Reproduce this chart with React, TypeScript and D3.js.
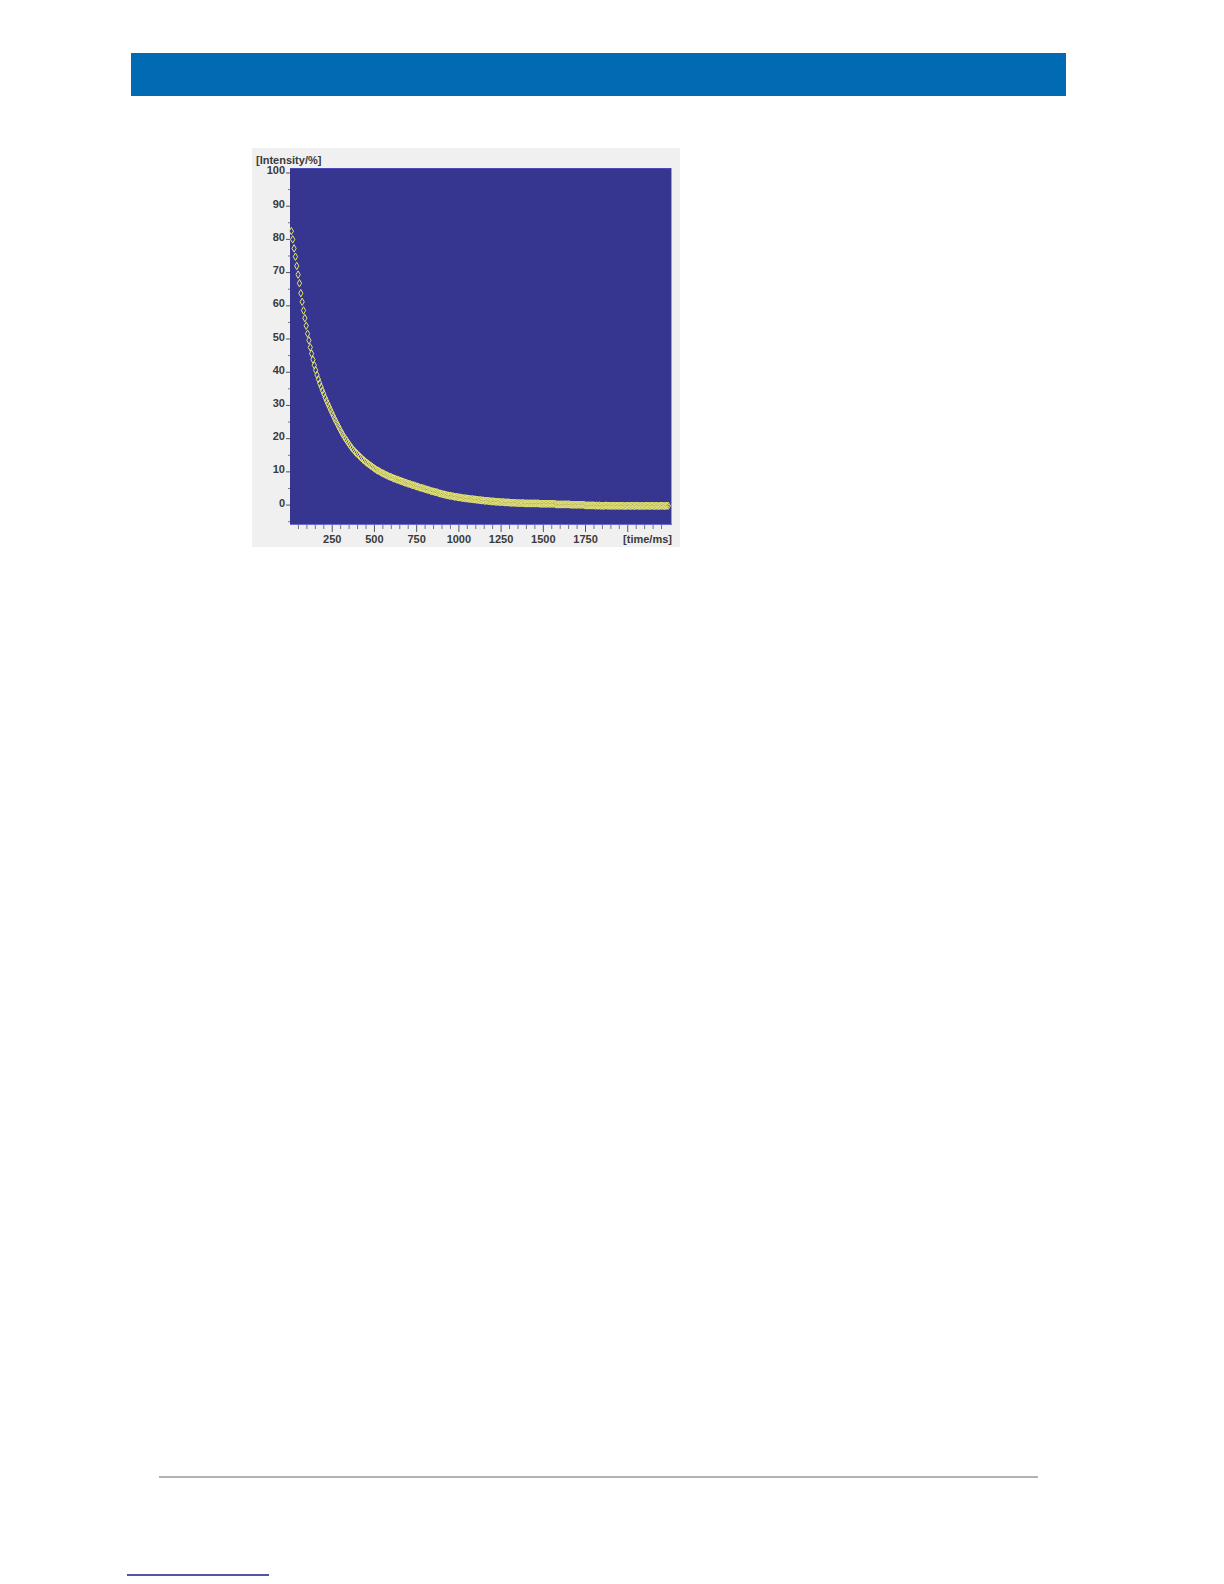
import React from "react";
import * as d3 from "d3";

// relaxation decay, one reading every 8 ms starting at 8 ms
const sampleStepMs = 8;
const intensity = [
  82.5, 80.0, 77.3, 74.8, 72.0, 69.4, 66.8, 63.8, 61.2, 58.6,
  56.3, 54.0, 51.6, 49.6, 47.5, 45.6, 43.8, 42.1, 40.6, 39.2,
  37.9, 36.7, 35.6, 34.5, 33.5, 32.4, 31.4, 30.5, 29.6, 28.7,
  27.8, 26.9, 26.0, 25.2, 24.4, 23.6, 22.8, 22.0, 21.3, 20.6,
  20.0, 19.4, 18.8, 18.2, 17.6, 17.1, 16.6, 16.1, 15.7, 15.3,
  14.9, 14.5, 14.1, 13.7, 13.4, 13.0, 12.7, 12.4, 12.1, 11.8,
  11.5, 11.2, 10.9, 10.6, 10.4, 10.2, 9.9, 9.7, 9.5, 9.3,
  9.1, 8.9, 8.7, 8.5, 8.4, 8.2, 8.0, 7.9, 7.7, 7.6,
  7.4, 7.3, 7.1, 7.0, 6.8, 6.7, 6.5, 6.4, 6.3, 6.1,
  6.0, 5.9, 5.7, 5.6, 5.5, 5.3, 5.2, 5.1, 5.0, 4.8,
  4.7, 4.6, 4.5, 4.3, 4.2, 4.1, 4.0, 3.9, 3.8, 3.6,
  3.5, 3.4, 3.3, 3.2, 3.1, 3.0, 2.9, 2.8, 2.8, 2.7,
  2.6, 2.5, 2.5, 2.4, 2.3, 2.3, 2.2, 2.1, 2.1, 2.0,
  2.0, 1.9, 1.9, 1.8, 1.8, 1.7, 1.7, 1.6, 1.6, 1.5,
  1.5, 1.4, 1.4, 1.3, 1.3, 1.3, 1.2, 1.2, 1.1, 1.1,
  1.1, 1.0, 1.0, 1.0, 0.9, 0.9, 0.9, 0.9, 0.8, 0.8,
  0.8, 0.8, 0.7, 0.7, 0.7, 0.7, 0.7, 0.6, 0.6, 0.6,
  0.6, 0.6, 0.6, 0.5, 0.5, 0.5, 0.5, 0.5, 0.5, 0.5,
  0.5, 0.5, 0.5, 0.5, 0.4, 0.4, 0.4, 0.4, 0.4, 0.4,
  0.4, 0.4, 0.4, 0.4, 0.4, 0.4, 0.2, 0.2, 0.2, 0.2,
  0.2, 0.2, 0.2, 0.2, 0.2, 0.2, 0.2, 0.1, 0.1, 0.1,
  0.1, 0.1, 0.1, 0.1, 0.1, 0.1, 0.1, 0.0, -0.1, -0.1,
  -0.1, -0.1, -0.1, -0.1, -0.1, -0.2, -0.1, -0.2, -0.1, -0.2,
  -0.2, -0.2, -0.2, -0.1, -0.2, -0.2, -0.2, -0.2, -0.2, -0.2,
  -0.2, -0.2, -0.2, -0.2, -0.2, -0.2, -0.2, -0.3, -0.2, -0.2,
  -0.2, -0.3, -0.2, -0.2, -0.3, -0.2, -0.2, -0.2, -0.3, -0.2,
  -0.2, -0.3, -0.2, -0.2, -0.2, -0.3, -0.2, -0.2, -0.2, -0.3,
  -0.2, -0.2, -0.3, -0.2, -0.2, -0.2, -0.3, -0.2, -0.2, -0.2,
];

const yMajorTicks = [0, 10, 20, 30, 40, 50, 60, 70, 80, 90, 100];
const yMinorTicks = [-5, 5, 15, 25, 35, 45, 55, 65, 75, 85, 95];
const xLabelTicks = [250, 500, 750, 1000, 1250, 1500, 1750];
const xMajorTicks = [250, 500, 750, 1000, 1250, 1500, 1750, 2000];
const xMinorTicks = d3.range(50, 2250, 50).filter((t) => t % 250 !== 0);

const plot = { left: 290, right: 672, top: 168, bottom: 525 };
const font = "'Liberation Sans', Arial, sans-serif";
const textColor = "#3a3a3a";

export default function App() {
  const x = d3.scaleLinear().domain([0, 2262]).range([plot.left, plot.right]);
  const y = d3.scaleLinear().domain([-6, 101.5]).range([plot.bottom, plot.top]);
  const diamond = d3.symbol(d3.symbolDiamond, 16)() as string;

  const points = intensity.map((v, i) => ({ t: (i + 1) * sampleStepMs, v }));

  return (
    <svg
      width={1224}
      height={1584}
      style={{ position: "absolute", left: 0, top: 0, background: "#fff" }}
    >
      {/* page header bar */}
      <rect x={131} y={53} width={935} height={43} fill="#006AB3" />

      {/* chart panel */}
      <rect x={252} y={148} width={428} height={399} fill="#F0F0F0" />
      <rect
        x={plot.left}
        y={plot.top}
        width={plot.right - plot.left}
        height={plot.bottom - plot.top}
        fill="#36358F"
      />
      <line x1={plot.left} x2={plot.right} y1={plot.top + 0.5} y2={plot.top + 0.5} stroke="#4a4ab8" />
      <line x1={plot.right - 0.5} x2={plot.right - 0.5} y1={plot.top} y2={plot.bottom} stroke="#9a9ae0" />
      <line x1={plot.left} x2={plot.right} y1={plot.bottom - 0.5} y2={plot.bottom - 0.5} stroke="#6c6cd0" />

      {/* y axis */}
      <g fontFamily={font} fontSize={11} fontWeight="bold" fill={textColor}>
        {yMajorTicks.map((v) => (
          <g key={"ym" + v}>
            <line x1={plot.left - 4} x2={plot.left} y1={y(v)} y2={y(v)} stroke="#555" />
            <text x={plot.left - 5} y={y(v) + 1.5} textAnchor="end">
              {v}
            </text>
          </g>
        ))}
        {yMinorTicks.map((v) => (
          <line key={"yn" + v} x1={plot.left - 2} x2={plot.left} y1={y(v)} y2={y(v)} stroke="#777" />
        ))}
        <text x={256} y={164}>[Intensity/%]</text>
      </g>

      {/* x axis */}
      <g fontFamily={font} fontSize={11} fontWeight="bold" fill={textColor}>
        {xMajorTicks.map((t) => (
          <line key={"xm" + t} x1={x(t)} x2={x(t)} y1={plot.bottom} y2={plot.bottom + 7} stroke="#555" />
        ))}
        {xMinorTicks.map((t) => (
          <line key={"xn" + t} x1={x(t)} x2={x(t)} y1={plot.bottom} y2={plot.bottom + 4} stroke="#777" />
        ))}
        {xLabelTicks.map((t) => (
          <text key={"xl" + t} x={x(t)} y={543} textAnchor="middle">
            {t}
          </text>
        ))}
        <text x={plot.right} y={543} textAnchor="end">[time/ms]</text>
      </g>

      {/* data points */}
      <g fill="none" stroke="#E4E46E" strokeWidth={1}>
        {points.map((p, i) => (
          <path key={i} d={diamond} transform={`translate(${x(p.t)},${y(p.v)})`} />
        ))}
      </g>

      {/* footer rules */}
      <line x1={159} x2={1038} y1={1477} y2={1477} stroke="#999" strokeWidth={1.5} />
      <line x1={127} x2={269} y1={1575} y2={1575} stroke="#1a1a8c" strokeWidth={1.5} />
    </svg>
  );
}
